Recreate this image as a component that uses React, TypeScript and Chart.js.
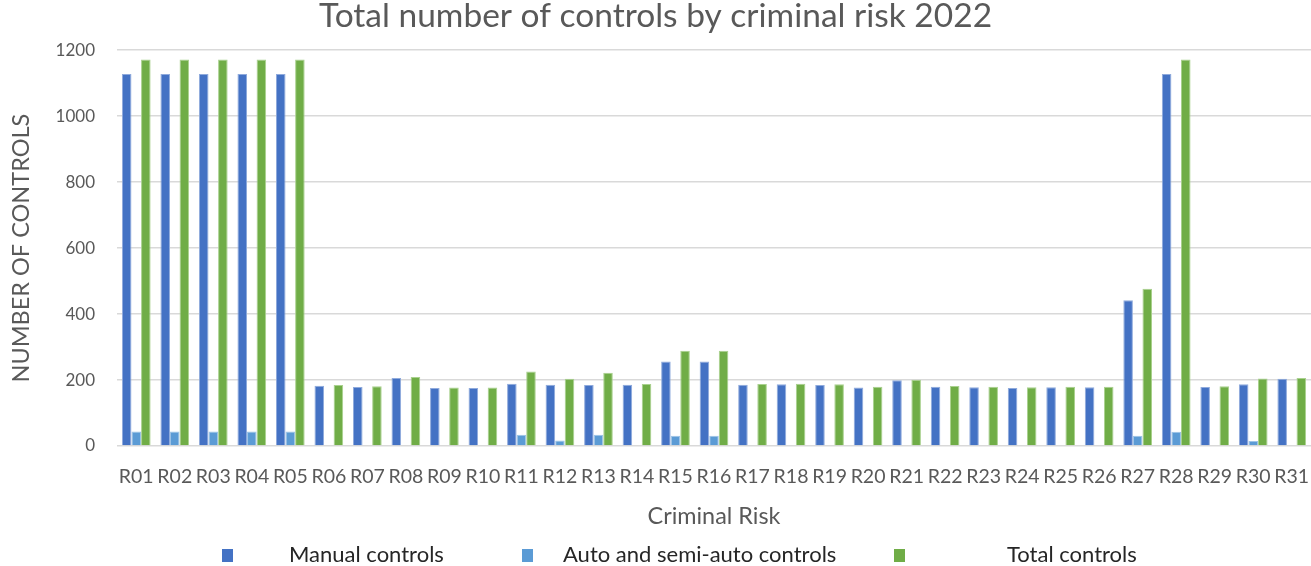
import React, { useEffect, useRef } from 'react';
import { Chart, registerables } from 'chart.js';

Chart.register(...registerables);

const categories = ['R01','R02','R03','R04','R05','R06','R07','R08','R09','R10','R11','R12','R13','R14','R15','R16','R17','R18','R19','R20','R21','R22','R23','R24','R25','R26','R27','R28','R29','R30','R31'];
const manualControls = [1128,1128,1128,1128,1128,183,179,206,176,176,189,186,185,186,256,256,186,187,185,177,199,180,178,176,178,178,442,1128,179,187,204];
const autoControls = [44,44,44,44,44,0,0,0,0,0,34,17,34,0,31,31,0,0,0,0,0,0,0,0,0,0,31,43,0,15,0];
const totalControls = [1172,1172,1172,1172,1172,185,181,209,177,177,226,204,222,188,289,289,188,189,187,180,201,182,180,178,180,180,477,1172,181,205,206];
const yTicks = [0, 200, 400, 600, 800, 1000, 1200];

const seriesNames = ['Manual controls', 'Auto and semi-auto controls', 'Total controls'];
const seriesColors = ['#4472C4', '#5B9BD5', '#70AD47'];
const seriesBorders = ['#8FAADC', '#9DC3E6', '#A9D18E'];

const FONT = 'Lato, "Open Sans", sans-serif';
const TEXT = '#595959';

export default function App() {
  const ref = useRef<HTMLCanvasElement | null>(null);

  useEffect(() => {
    if (!ref.current) return;
    const series = [manualControls, autoControls, totalControls];
    const chart = new Chart(ref.current, {
      type: 'bar',
      data: {
        labels: categories,
        datasets: series.map((d, i) => ({
          label: seriesNames[i],
          data: d,
          backgroundColor: seriesColors[i],
          borderColor: seriesBorders[i],
          borderWidth: 1,
          categoryPercentage: 0.745,
          barPercentage: 1,
        })),
      },
      options: {
        animation: false,
        responsive: false,
        maintainAspectRatio: false,
        layout: { padding: { left: 0, right: 0, top: 0, bottom: 36 } },
        plugins: {
          legend: { display: false },
          tooltip: { enabled: false },
          title: {
            display: true,
            text: 'Total number of controls by criminal risk 2022',
            color: TEXT,
            font: { family: FONT, size: 33.5, weight: 'normal' },
            padding: { top: -4, bottom: 14 },
          },
        },
        scales: {
          x: {
            grid: { display: false, drawTicks: false },
            border: { display: false },
            ticks: {
              color: TEXT,
              font: { family: FONT, size: 19.5 },
              autoSkip: false,
              maxRotation: 0,
              minRotation: 0,
              padding: 19,
            },
            title: {
              display: true,
              text: 'Criminal Risk',
              color: TEXT,
              font: { family: FONT, size: 23.4 },
              padding: { top: 1, bottom: 0 },
            },
            afterFit: (s: any) => {
              s.height = 566 - 36 - 446;
              s.paddingLeft = 0;
              s.paddingRight = 0;
            },
          },
          y: {
            min: 0,
            max: 1200,
            afterBuildTicks: (s: any) => { s.ticks = yTicks.map((v) => ({ value: v })); },
            grid: { color: '#D9D9D9', lineWidth: 1.5, drawTicks: false },
            border: { display: false },
            ticks: {
              color: TEXT,
              font: { family: FONT, size: 17 },
              padding: 22,
              callback: (v: any) => String(v),
            },
            title: {
              display: true,
              text: 'NUMBER OF CONTROLS',
              color: TEXT,
              font: { family: FONT, size: 23.5 },
              padding: { top: 7, bottom: 0 },
            },
            afterFit: (s: any) => { s.width = 117; },
          },
        },
      },
    });
    return () => chart.destroy();
  }, []);

  const legendItems = [
    { box: 222, text: 289 },
    { box: 522, text: 563 },
    { box: 894, text: 1007 },
  ];

  return (
    <div style={{ position: 'fixed', left: 0, top: 0, width: 1311, height: 566, background: '#fff' }}>
      <canvas ref={ref} width={1311} height={566} style={{ position: 'absolute', left: 0, top: 0 }} />
      {legendItems.map((it, i) => (
        <React.Fragment key={i}>
          <div style={{ position: 'absolute', left: it.box, top: 549, width: 11, height: 13, background: seriesColors[i] }} />
          <div style={{ position: 'absolute', left: it.text, top: 540, fontFamily: FONT, fontSize: 22, color: '#262626', whiteSpace: 'nowrap', lineHeight: '28px' }}>
            {seriesNames[i]}
          </div>
        </React.Fragment>
      ))}
    </div>
  );
}
